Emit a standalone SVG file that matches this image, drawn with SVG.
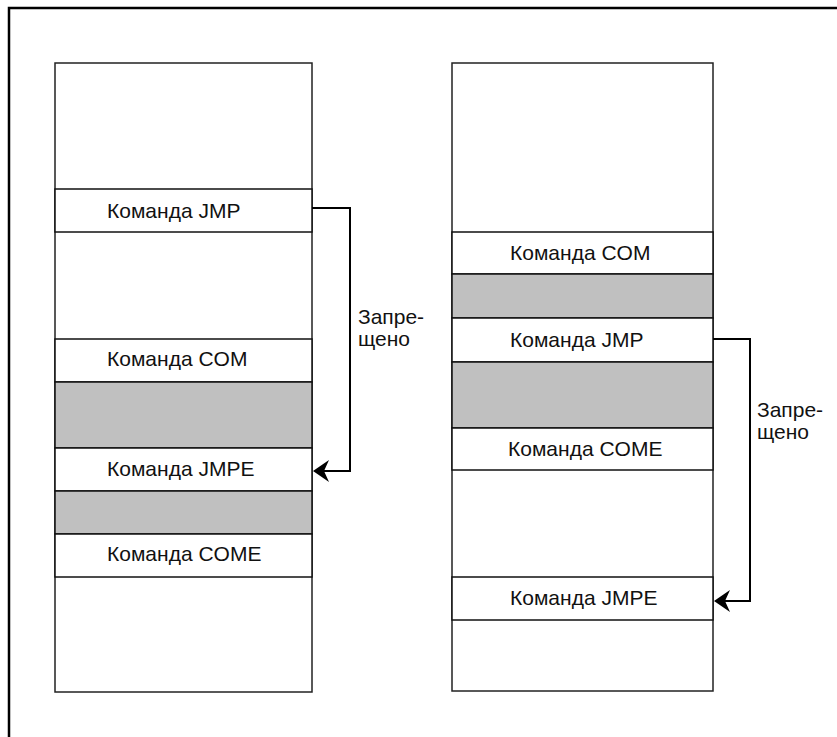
<svg xmlns="http://www.w3.org/2000/svg" width="837" height="737" viewBox="0 0 837 737">
<style>
.col{fill:#fff;stroke:#222;stroke-width:1.5}
.row{fill:#fff;stroke:#111;stroke-width:1.5}
.gray{fill:#c0c0c0;stroke:#111;stroke-width:1.5}
.t{font-family:"Liberation Sans",Arial,sans-serif;font-size:21px;fill:#111}
.conn{fill:none;stroke:#000;stroke-width:2}
.head{fill:#000}
.frame{fill:none;stroke:#000;stroke-width:2.5}
</style>
<path class="frame" d="M837,8 H9 V737"/>
<g id="left-column">
<rect class="col" x="55" y="63" width="257" height="629"/>
</g>
<g id="left-jmp"><rect class="row" x="55" y="189" width="257" height="43"/><text class="t" x="107" y="218">Команда JMP</text></g>
<g id="left-com"><rect class="row" x="55" y="339" width="257" height="43"/><text class="t" x="107" y="366">Команда COM</text></g>
<g id="left-gray1"><rect class="gray" x="55" y="382" width="257" height="66"/></g>
<g id="left-jmpe"><rect class="row" x="55" y="448" width="257" height="43"/><text class="t" x="107" y="476">Команда JMPE</text></g>
<g id="left-gray2"><rect class="gray" x="55" y="491" width="257" height="43"/></g>
<g id="left-come"><rect class="row" x="55" y="534" width="257" height="43"/><text class="t" x="107" y="561">Команда COME</text></g>

<g id="right-column">
<rect class="col" x="452" y="63" width="261" height="628"/>
</g>
<g id="right-com"><rect class="row" x="452" y="232" width="261" height="42"/><text class="t" x="510" y="260">Команда COM</text></g>
<g id="right-gray1"><rect class="gray" x="452" y="274" width="261" height="44"/></g>
<g id="right-jmp"><rect class="row" x="452" y="318" width="261" height="44"/><text class="t" x="510" y="347">Команда JMP</text></g>
<g id="right-gray2"><rect class="gray" x="452" y="362" width="261" height="66"/></g>
<g id="right-come"><rect class="row" x="452" y="428" width="261" height="42"/><text class="t" x="508" y="456">Команда COME</text></g>
<g id="right-jmpe"><rect class="row" x="452" y="577" width="261" height="43"/><text class="t" x="510" y="605">Команда JMPE</text></g>

<g id="connectors">
<path class="conn" d="M312,208 H350 V471 H320"/>
<path class="head" d="M313,471 L329,460 L324,471 L329,482 Z"/>
<text class="t" x="358" y="324">Запре-</text>
<text class="t" x="358" y="346">щено</text>
<path class="conn" d="M713,339 H750 V601 H721"/>
<path class="head" d="M714,601 L730,590 L725,601 L730,612 Z"/>
<text class="t" x="757" y="417">Запре-</text>
<text class="t" x="757" y="439">щено</text>
</g>
</svg>
